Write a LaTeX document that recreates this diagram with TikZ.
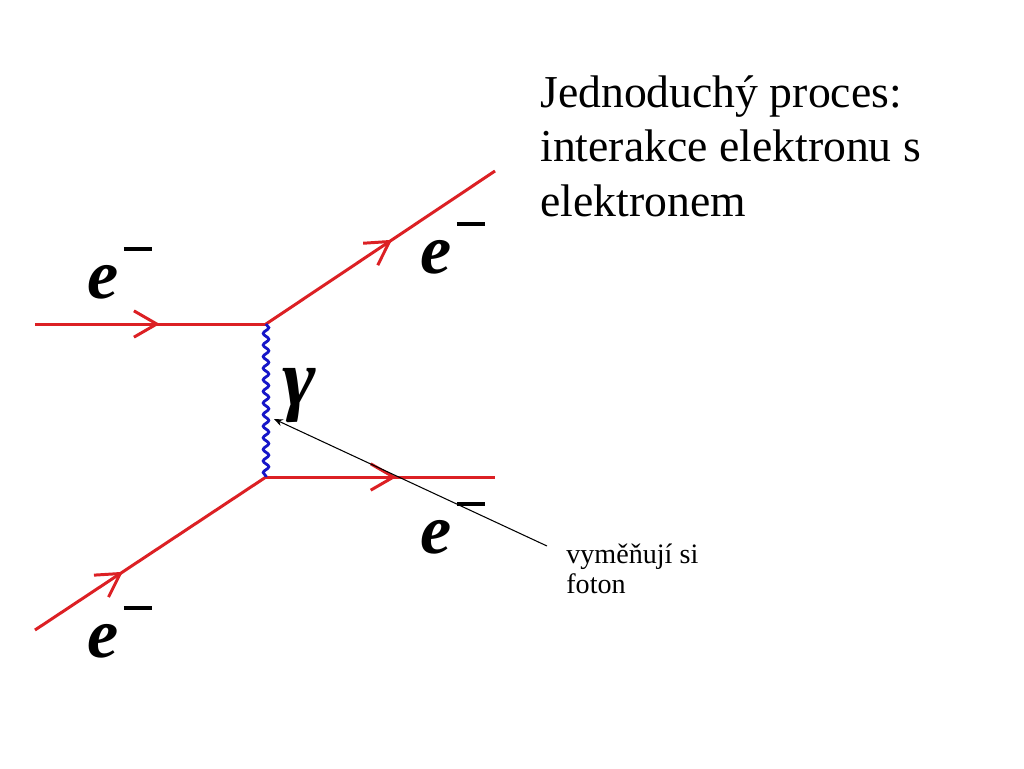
\documentclass[tikz,border=0pt]{standalone}
\usepackage{fontspec}
\setmainfont{Liberation Serif}
\usetikzlibrary{decorations.pathmorphing,decorations.markings,arrows.meta}
\definecolor{elred}{RGB}{220,32,36}
\definecolor{elblue}{RGB}{22,22,200}
\newcommand{\elektron}{\textbf{\textit{e}}\kern3pt\raisebox{27pt}{\rule{16pt}{1.8pt}}}
\tikzset{
    fermion/.style={draw=elred,line width=1.7pt,postaction={decorate},
        decoration={markings,mark=at position #1 with {\arrow{Straight Barb[length=13pt,width=15pt]}}}},
    fermion/.default=0.55,
    photon/.style={draw=elblue,line width=1.6pt,decorate,
        decoration={snake,amplitude=1.6pt,segment length=6.6pt}},
    elabel/.style={anchor=base west,inner sep=0pt,font=\fontsize{40}{40}\selectfont},
    pointer/.style={draw=black,line width=0.6pt,-{Stealth[length=5pt,width=4pt]}}
}
\begin{document}
\begin{tikzpicture}[x=0.02cm,y=-0.02cm]
            \useasboundingbox (0,0) rectangle (1024,768);

            \begin{scope}
                \coordinate (v1) at (266,324);
                \coordinate (v2) at (266,477);
                \coordinate (inA) at (35,324);
                \coordinate (inB) at (35,630);
                \coordinate (outA) at (495,171);
                \coordinate (outB) at (495,477);
                \coordinate (ptr) at (547,546);
                \coordinate (hit) at (274,419);
            \end{scope}

            \begin{scope}
                \path [fermion=0.54] (inA) -- (v1);
                \path [fermion=0.55] (v1) -- (outA);
                \path [fermion=0.38] (inB) -- (v2);
                \path [fermion=0.57] (v2) -- (outB);
                \path [photon] (v1) -- (v2);
            \end{scope}

            \begin{scope}[every node/.style={elabel}]
                \node (eA) at (87,298) {\elektron};
                \node (eB) at (420,273) {\elektron};
                \node (eC) at (420,553) {\elektron};
                \node (eD) at (87,657) {\elektron};
                \node[font=\fontsize{46}{46}\selectfont] (gam) at (282,405) {\textbf{\textit{γ}}};
            \end{scope}

            \node[anchor=north west,inner sep=0pt,align=left,font=\fontsize{26}{31}\selectfont]
                (titel) at (540,75) {Jednoduchý proces:\\interakce elektronu s\\elektronem};
            \node[anchor=north west,inner sep=0pt,align=left,font=\fontsize{16}{17}\selectfont]
                (note) at (566,544) {vyměňují si\\foton};

            \path [pointer] (ptr) -- (hit);
\end{tikzpicture}
\end{document}
